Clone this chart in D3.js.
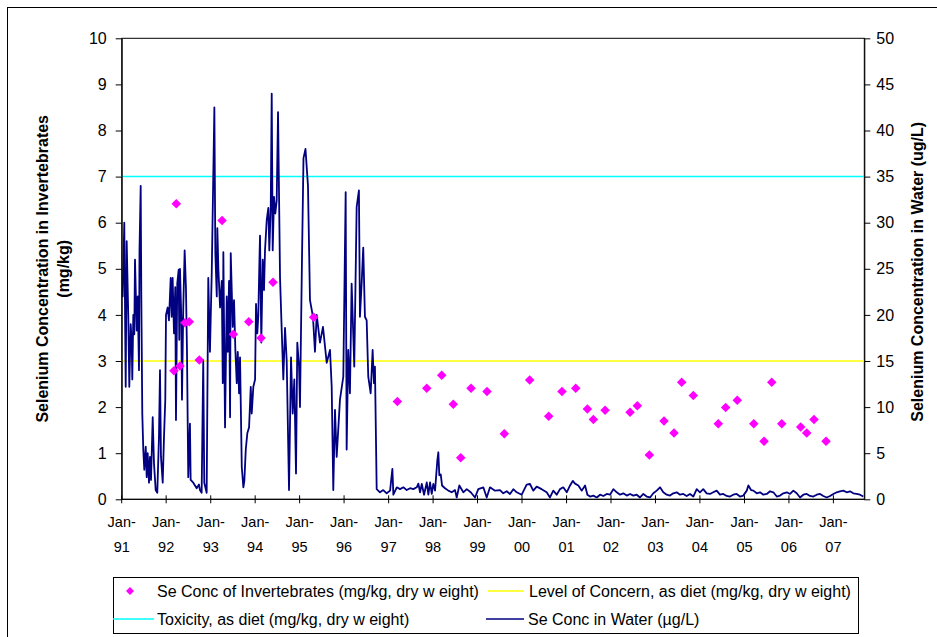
<!DOCTYPE html>
<html>
<head>
<meta charset="utf-8">
<script src="https://cdn.jsdelivr.net/npm/d3@7"></script>
<style>
  body { margin: 0; background: #fff; }
  svg { font-family: "Liberation Sans", Arial, sans-serif; }
</style>
</head>
<body>
<svg id="chart" width="937" height="637"></svg>
<script>
// x axis labels
const tickYears = [1991,1992,1993,1994,1995,1996,1997,1998,1999,2000,2001,2002,2003,2004,2005,2006,2007]
const tickLabels = ['91','92','93','94','95','96','97','98','99','00','01','02','03','04','05','06','07']
const leftTicks = [0,1,2,3,4,5,6,7,8,9,10]
const rightTicks = [0,5,10,15,20,25,30,35,40,45,50]

// reference levels (mg/kg)
const concernLevel = 3
const toxicityLevel = 7

// Se in invertebrates (decimal year, mg/kg)
const invertYears = [1992.176,1992.228,1992.311,1992.423,1992.520,1992.745,1993.255,1993.509,1993.855,1994.132,1994.401,1995.317,
  1997.196,1997.857,1998.194,1998.455,1998.621,1998.853,1999.213,1999.602,2000.173,2000.600,2000.899,2001.207,2001.468,2001.603,
  2001.866,2002.428,2002.592,2002.862,2003.192,2003.417,2003.590,2003.851,2004.413,2004.579,2004.840,2005.209,2005.440,2005.613,
  2005.838,2006.265,2006.400,2006.564,2006.834]
const invertConc = [2.79,6.41,2.89,3.83,3.85,3.02,6.05,3.58,3.85,3.50,4.71,3.95,
  2.12,2.41,2.69,2.06,0.90,2.41,2.34,1.42,2.59,1.80,2.34,2.41,1.96,1.73,
  1.93,1.89,2.03,0.96,1.70,1.44,2.54,2.25,1.64,1.99,2.15,1.64,1.26,2.54,
  1.64,1.57,1.44,1.73,1.26]

// Se in water (decimal year, ug/L)
const waterYears = [1991.000,1991.022,1991.058,1991.090,1991.112,1991.148,1991.171,1991.202,1991.225,1991.238,1991.261,1991.283,1991.299,
  1991.337,1991.360,1991.389,1991.400,1991.427,1991.441,1991.463,1991.486,1991.508,1991.540,1991.562,1991.584,1991.614,1991.636,
  1991.659,1991.697,1991.726,1991.764,1991.800,1991.838,1991.861,1991.883,1991.922,1991.951,1991.980,1991.996,
  1992.034,1992.063,1992.102,1992.124,1992.146,1992.176,1992.205,1992.221,1992.250,1992.281,1992.295,1992.311,1992.340,1992.356,
  1992.385,1992.416,1992.445,1992.468,1992.497,1992.535,1992.551,1992.610,1992.686,1992.738,1992.760,1992.798,1992.834,1992.857,
  1992.911,1992.947,1992.985,
  1993.023,1993.082,1993.104,1993.136,1993.149,1993.172,1993.210,1993.248,1993.271,1993.284,1993.322,1993.360,1993.383,1993.412,
  1993.435,1993.450,1993.495,1993.524,1993.554,1993.585,1993.608,1993.637,1993.659,1993.698,1993.734,1993.756,1993.788,1993.824,
  1993.862,1993.900,1993.922,1993.958,1993.997,
  1994.019,1994.048,1994.071,1994.093,1994.109,1994.138,1994.170,1994.199,1994.221,1994.260,1994.296,1994.318,1994.350,1994.372,
  1994.394,1994.424,1994.453,1994.484,1994.514,1994.559,1994.597,1994.633,1994.671,1994.709,1994.761,1994.806,1994.844,1994.880,
  1994.918,1994.947,1994.986,
  1995.008,1995.053,1995.087,1995.132,1995.188,1995.233,1995.300,1995.345,1995.384,1995.458,1995.525,1995.609,1995.683,1995.721,
  1995.757,1995.795,1995.833,1995.907,1995.982,
  1996.036,1996.058,1996.094,1996.132,1996.170,1996.206,1996.229,1996.283,1996.334,1996.357,1996.395,1996.431,1996.469,1996.508,
  1996.544,1996.598,1996.642,1996.672,1996.694,1996.733,1996.807,1996.881,1996.958,
  1997.032,1997.084,1997.106,1997.183,1997.257,1997.331,1997.407,1997.482,1997.556,1997.632,1997.668,1997.706,1997.745,1997.796,
  1997.857,1997.893,1997.931,1997.969,
  1998.005,1998.044,1998.095,1998.118,1998.140,1998.172,1998.201,1998.268,1998.343,1998.419,1998.493,1998.531,1998.590,1998.680,
  1998.756,1998.846,1998.943,
  1999.017,1999.130,1999.206,1999.280,1999.393,1999.505,1999.579,1999.656,1999.730,1999.804,1999.880,1999.993,
  2000.105,2000.179,2000.254,2000.330,2000.442,2000.555,2000.629,2000.703,2000.780,2000.854,2000.928,
  2001.004,2001.079,2001.139,2001.191,2001.265,2001.342,2001.416,2001.468,2001.528,2001.602,2001.679,2001.753,2001.827,2001.904,
  2001.978,
  2002.052,2002.129,2002.203,2002.277,2002.353,2002.428,2002.502,2002.578,2002.652,2002.727,2002.803,2002.877,2002.951,
  2003.028,2003.102,2003.176,2003.253,2003.327,2003.401,2003.478,2003.552,2003.626,2003.702,2003.777,2003.851,2003.927,
  2004.001,2004.075,2004.152,2004.226,2004.300,2004.377,2004.451,2004.525,2004.602,2004.676,2004.750,2004.826,2004.901,2004.975,
  2005.051,2005.087,2005.148,2005.200,2005.276,2005.350,2005.424,2005.501,2005.575,2005.649,2005.726,2005.800,2005.874,2005.951,
  2006.025,2006.099,2006.175,2006.250,2006.324,2006.400,2006.474,2006.549,2006.625,2006.699,2006.773,2006.850,2006.924,2006.998,
  2007.075,2007.149,2007.223,2007.299,2007.374,2007.448,2007.524,2007.598,2007.673]
const waterConc = [22,22,30,12.2,28,19.8,12.2,19,17,13,20,17.9,26,
  18.3,22,14,27,34,22,9.3,5.3,3.2,5.7,2.4,5,1.8,4.6,
  2.1,8.9,3.9,1.0,0.7,6.8,14,4.6,1.8,6.8,10.8,20,
  20.8,19.4,24,19.8,24,18,23,8.6,23.4,24.9,17.3,25,19.8,10.8,
  20.8,27,23,16.2,2.4,8.2,2.1,1.8,1.2,1.6,1.0,0.7,15.1,1.8,
  0.7,24,16,
  24.6,42.5,26.7,22,29.4,25,20.8,23.7,12.6,26.8,7.8,22,16,23.7,
  8.9,26.7,18.7,21.6,16.2,12.6,16,11.5,15.4,3.5,1.3,2,5.4,7.2,
  7.8,12.2,9.3,12.2,13,
  21.2,18,20,25.3,28.6,17,26,22.7,27,30.3,31.6,27,31.7,44,
  27,32.8,31,32.4,42,24,18.3,13,18.6,15,1.0,15.4,9.3,13,
  2.8,17,14.4,
  10,26,37,38,34,21.6,19.8,16,20,17,18.7,14.8,16.2,12.2,
  1.0,9.7,4.6,10.8,13.3,
  33.3,5.4,16.2,11.5,23.4,18,14.4,31.7,33.5,19.8,23.4,27.3,19.8,19.4,
  13.3,11.5,16.2,12.6,14.4,1.1,0.76,1.0,0.65,
  0.94,3.3,0.5,1.3,1.1,1.3,1.0,1.2,1.1,1.3,1.7,0.76,1.66,0.5,
  1.84,0.5,1.84,0.58,
  1.66,0.94,4.2,5.1,2.6,2.7,1.5,1.2,0.94,0.76,1.0,0.2,1.5,0.76,
  1.1,0.76,0.2,
  1.1,1.3,0.2,1.3,0.94,1.0,0.65,0.87,0.58,1.1,0.76,0.5,
  1.6,1.66,0.94,1.37,1.1,0.76,0.2,0.94,0.5,1.1,1.3,
  0.76,1.5,2.0,1.7,1.5,0.94,1.5,0.5,0.3,0.4,0.2,0.5,0.36,0.58,
  0.5,
  1.1,0.76,0.5,0.65,0.4,0.58,0.4,0.5,0.2,0.58,0.3,0.2,0.65,
  0.94,1.3,0.76,0.5,0.4,0.65,0.76,0.5,0.58,0.36,0.58,0.3,1.1,
  0.76,1.1,0.65,0.58,0.76,0.94,0.5,0.58,0.36,0.3,0.5,0.58,0.3,0.4,
  0.94,1.5,1.0,0.94,0.65,0.76,0.5,0.58,0.87,0.76,0.3,0.4,0.65,0.76,
  0.58,0.94,0.65,0.2,0.5,0.58,0.36,0.3,0.5,0.58,0.36,0.2,0.36,0.58,
  0.76,0.87,0.94,0.76,0.87,0.65,0.58,0.5,0.3]

function toDate(dy) {
  const y = Math.floor(dy)
  return new Date(new Date(y, 0, 1).getTime() + (dy - y) * 365.25 * 864e5)
}

const svg = d3.select('#chart')
const plotLeft = 121.7, plotRight = 864.3, plotTop = 38.3, plotBottom = 499.3

// outer frame
svg.append('rect').attr('x', 7.5).attr('y', 7.5).attr('width', 940).attr('height', 640)
  .attr('fill', 'none').attr('stroke', '#000').attr('stroke-width', 1)

const x = d3.scaleTime().domain([new Date(1991, 0, 1), toDate(2007.695)]).range([plotLeft, plotRight])
const yL = d3.scaleLinear().domain([0, 10]).range([plotBottom, plotTop])
const yR = d3.scaleLinear().domain([0, 50]).range([plotBottom, plotTop])

// plot border
svg.append('rect').attr('x', plotLeft).attr('y', plotTop).attr('width', plotRight - plotLeft).attr('height', plotBottom - plotTop)
  .attr('fill', 'none').attr('stroke', '#000').attr('stroke-width', 1)

// reference lines
svg.append('line').attr('x1', plotLeft).attr('x2', plotRight).attr('y1', yL(toxicityLevel)).attr('y2', yL(toxicityLevel))
  .attr('stroke', '#00ffff').attr('stroke-width', 1.5)
svg.append('line').attr('x1', plotLeft).attr('x2', plotRight).attr('y1', yL(concernLevel)).attr('y2', yL(concernLevel))
  .attr('stroke', '#ffff00').attr('stroke-width', 1.5)

// water line
const water = waterYears.map((d, i) => ({ date: toDate(d), v: waterConc[i] }))
svg.append('path').datum(water)
  .attr('fill', 'none').attr('stroke', '#000080').attr('stroke-width', 1.8).attr('stroke-linejoin', 'round')
  .attr('d', d3.line().x(d => x(d.date)).y(d => yR(d.v)))

// invertebrate diamonds
const invert = invertYears.map((d, i) => ({ date: toDate(d), v: invertConc[i] }))
svg.selectAll('.dot').data(invert).enter().append('path')
  .attr('class', 'dot')
  .attr('d', d3.symbol().type(d3.symbolDiamond2).size(58))
  .attr('transform', d => 'translate(' + x(d.date) + ',' + yL(d.v) + ')')
  .attr('fill', '#ff00ff')

// axes
const yAxisL = d3.axisLeft(yL).tickValues(leftTicks).tickSizeInner(6).tickSizeOuter(0).tickPadding(9)
const gL = svg.append('g').attr('transform', 'translate(' + plotLeft + ',0)').call(yAxisL)
const yAxisR = d3.axisRight(yR).tickValues(rightTicks).tickSizeInner(6).tickSizeOuter(0).tickPadding(6)
const gR = svg.append('g').attr('transform', 'translate(' + plotRight + ',0)').call(yAxisR)
;[gL, gR].forEach(g => {
  g.select('.domain').attr('stroke', '#000')
  g.selectAll('text').attr('font-size', 16).attr('fill', '#000').attr('font-family', '"Liberation Sans", Arial, sans-serif')
  g.selectAll('line').attr('stroke', '#000')
})

const xTicks = tickYears.map(yr => new Date(yr, 0, 1))
const gX = svg.append('g').attr('transform', 'translate(0,' + plotBottom + ')')
gX.append('line').attr('x1', plotLeft).attr('x2', plotRight).attr('stroke', '#000')
gX.selectAll('.xt').data(xTicks).enter().append('line')
  .attr('x1', d => x(d)).attr('x2', d => x(d)).attr('y1', -4).attr('y2', 4).attr('stroke', '#000')
const xl = gX.selectAll('.xl').data(xTicks).enter().append('text')
  .attr('text-anchor', 'middle').attr('font-size', 14.5).attr('fill', '#000')
  .attr('transform', d => 'translate(' + x(d) + ',0)')
xl.append('tspan').attr('x', 0).attr('y', 28).text('Jan-')
xl.append('tspan').attr('x', 0).attr('y', 53).text((d, i) => tickLabels[i])

// axis titles
const midY = (plotTop + plotBottom) / 2
const tl = svg.append('text').attr('transform', 'translate(48,' + midY + ') rotate(-90)')
  .attr('text-anchor', 'middle').attr('font-size', 16).attr('font-weight', 'bold')
tl.append('tspan').attr('x', 0).attr('y', 0).text('Selenium Concentration in Invertebrates')
tl.append('tspan').attr('x', 0).attr('y', 21).text('(mg/kg)')
svg.append('text').attr('transform', 'translate(923,' + (midY + 3) + ') rotate(-90)')
  .attr('text-anchor', 'middle').attr('font-size', 16).attr('font-weight', 'bold')
  .text('Selenium Concentration in Water (ug/L)')

// legend
const lg = svg.append('g')
lg.append('rect').attr('x', 113.5).attr('y', 577.5).attr('width', 745).attr('height', 56)
  .attr('fill', '#fff').attr('stroke', '#000')
lg.append('path').attr('d', d3.symbol().type(d3.symbolDiamond2).size(40))
  .attr('transform', 'translate(130,591)').attr('fill', '#ff00ff')
lg.append('line').attr('x1', 488).attr('x2', 524).attr('y1', 591).attr('y2', 591).attr('stroke', '#ffff00').attr('stroke-width', 1.5)
lg.append('line').attr('x1', 113).attr('x2', 154).attr('y1', 619).attr('y2', 619).attr('stroke', '#00ffff').attr('stroke-width', 1.5)
lg.append('line').attr('x1', 486).attr('x2', 524).attr('y1', 619).attr('y2', 619).attr('stroke', '#000080').attr('stroke-width', 1.5)
const legendItems = [
  ['Se Conc of Invertebrates (mg/kg, dry w eight)', 157, 591],
  ['Level of Concern, as diet (mg/kg, dry w eight)', 529, 591],
  ['Toxicity, as diet (mg/kg, dry w eight)', 157, 619],
  ['Se Conc in Water (\u00b5g/L)', 528, 619]
]
lg.selectAll('.lt').data(legendItems).enter().append('text')
  .attr('x', d => d[1]).attr('y', d => d[2]).attr('dy', '0.35em')
  .attr('font-size', 16).attr('fill', '#000').text(d => d[0])
</script>
</body>
</html>
